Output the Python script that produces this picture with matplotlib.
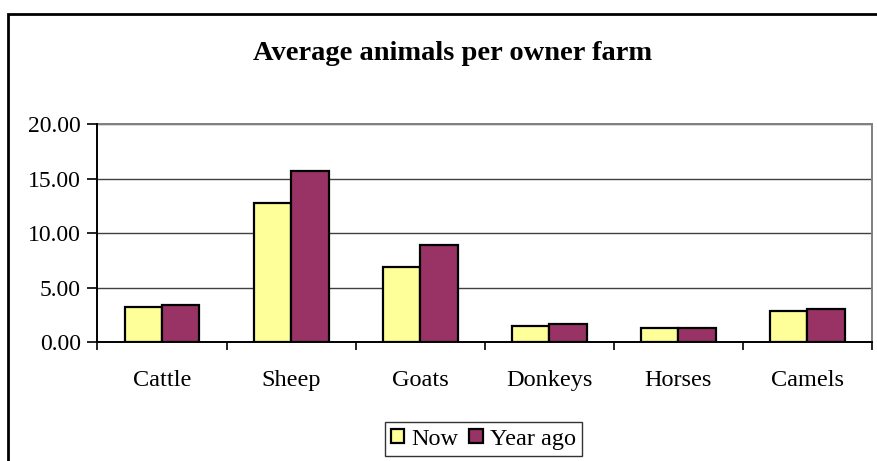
import numpy as np
import matplotlib.pyplot as plt
from matplotlib.patches import Rectangle

animals = ["Cattle", "Sheep", "Goats", "Donkeys", "Horses", "Camels"]
now = [3.19, 12.78, 6.92, 1.47, 1.32, 2.81]
year_ago = [3.37, 15.65, 8.92, 1.65, 1.32, 3.00]
yticks = [0, 5, 10, 15, 20]

plt.rcParams["font.family"] = ["Liberation Serif", "DejaVu Serif"]

W, H = 878, 461
fig = plt.figure(figsize=(W / 100, H / 100), dpi=100)
ax = fig.add_axes([97.5 / W, 1 - 342 / H, (872 - 97.5) / W, (342 - 124) / H])

x = np.arange(len(animals))
w = 0.29
ax.bar(x - w / 2, now, w, color="#FFFF99", edgecolor="black", linewidth=1.6,
       label="Now", zorder=3)
ax.bar(x + w / 2, year_ago, w, color="#993366", edgecolor="black", linewidth=1.6,
       label="Year ago", zorder=3)

ax.set_xlim(-0.5, len(animals) - 0.5)
ax.set_ylim(0, 20)
ax.set_yticks(yticks)
ax.set_yticklabels([f"{v:.2f}" for v in yticks])
ax.set_xticks(x)
ax.set_xticklabels(animals)
ax.set_xticks(np.arange(len(animals) + 1) - 0.5, minor=True)

ax.tick_params(axis="x", which="major", length=0, pad=20, labelsize=17.5)
ax.tick_params(axis="x", which="minor", length=6, width=1.2, direction="out")
ax.tick_params(axis="y", length=7, width=1.2, direction="out", pad=5, labelsize=17)

ax.yaxis.grid(True, color="#404040", linewidth=1.0, zorder=0)
for s in ("left", "bottom"):
    ax.spines[s].set_color("black")
    ax.spines[s].set_linewidth(1.4)
    ax.spines[s].set_zorder(4)
for s in ("top", "right"):
    ax.spines[s].set_color("#808080")
    ax.spines[s].set_linewidth(1.4)

fig.text(452.5 / W, 1 - 60 / H, "Average animals per owner farm", ha="center",
         va="baseline", fontsize=20.5, fontweight="bold")

leg = fig.legend(loc="center", bbox_to_anchor=(483.5 / W, 1 - 439 / H), ncol=2,
                 fontsize=17.5, frameon=True, fancybox=False, edgecolor="black",
                 handlelength=0.55, handleheight=0.55, handletextpad=0.3,
                 columnspacing=0.45, borderpad=0.25, borderaxespad=0)
leg.get_frame().set_linewidth(1.0)

# outer chart frame, running off the right and bottom edges
fig.patches.append(Rectangle((8 / W, -0.05), 1.2, 1 - 14 / H + 0.05,
                             transform=fig.transFigure, fill=False,
                             edgecolor="black", linewidth=2.0))

fig.savefig("out.png", dpi=100)
